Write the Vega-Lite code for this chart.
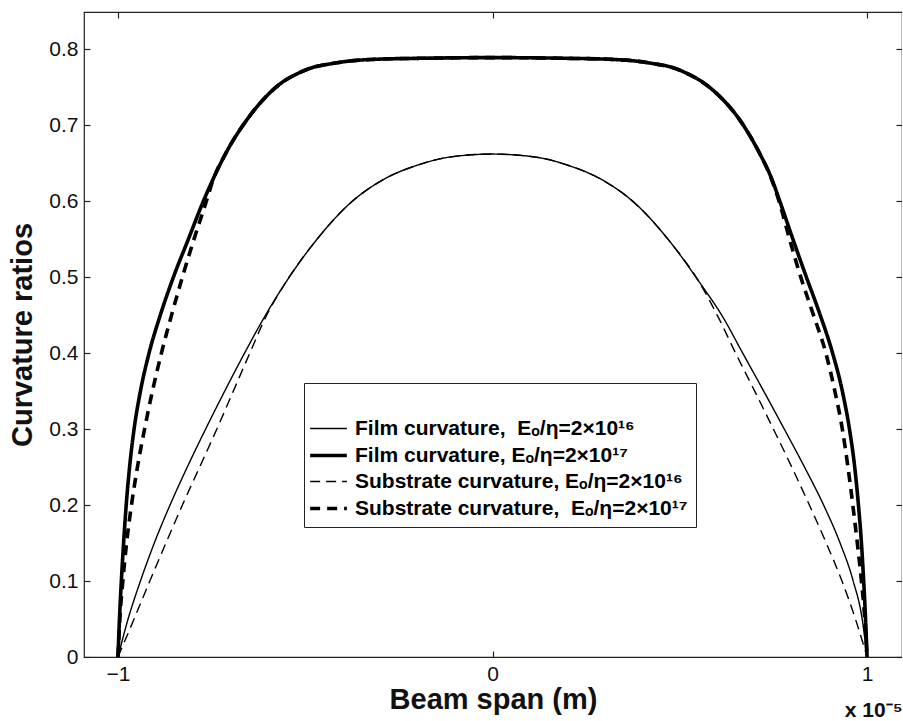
{
  "$schema": "https://vega.github.io/schema/vega-lite/v6.json",
  "autosize": {"type": "none"},
  "padding": {"left": 84, "top": 12, "right": 0, "bottom": 64},
  "width": 818,
  "height": 645,
  "background": "white",
  "config": {
    "view": {"stroke": "#222", "strokeWidth": 1.2},
    "font": "Liberation Sans",
    "axis": {"grid": false, "domain": false, "tickColor": "#222", "tickSize": -6, "tickWidth": 1.2, "labelFont": "Liberation Sans", "labelColor": "#111", "labelFontSize": 21, "titleFont": "Liberation Sans", "titleFontWeight": "bold", "titleColor": "#111"},
    "legend": {"orient": "none", "legendX": 220, "legendY": 371, "titleFontSize": 12, "titlePadding": 10,
               "symbolType": "M-1.25,0H1.25", "symbolSize": 864, "symbolStrokeColor": "#000", "symbolFillColor": "transparent", "labelFont": "Liberation Sans", "labelFontWeight": "bold", "labelFontSize": 21, "labelColor": "#000", "labelLimit": 600, "labelOffset": 10,
               "rowPadding": 0, "padding": 8, "strokeColor": "#222", "fillColor": "#fff"}
  },
  "title": {"text": "x 10⁻⁵", "orient": "bottom", "anchor": "end", "fontSize": 21, "fontWeight": "bold", "font": "Liberation Sans", "color": "#111", "offset": -14},
  "datasets": {
    "curves": [
      {"series": "F16", "x": -1, "y": 0}, {"series": "F16", "x": -0.973, "y": 0.05}, {"series": "F16", "x": -0.94, "y": 0.1}, {"series": "F16", "x": -0.903, "y": 0.15}, {"series": "F16", "x": -0.861, "y": 0.2}, {"series": "F16", "x": -0.815, "y": 0.25}, {"series": "F16", "x": -0.766, "y": 0.3}, {"series": "F16", "x": -0.715, "y": 0.35}, {"series": "F16", "x": -0.662, "y": 0.4}, {"series": "F16", "x": -0.606, "y": 0.45}, {"series": "F16", "x": -0.56, "y": 0.487}, {"series": "F16", "x": -0.47, "y": 0.549}, {"series": "F16", "x": -0.381, "y": 0.597}, {"series": "F16", "x": -0.293, "y": 0.628}, {"series": "F16", "x": -0.203, "y": 0.647}, {"series": "F16", "x": -0.115, "y": 0.658}, {"series": "F16", "x": 0, "y": 0.662},
      {"series": "F16", "x": 0.115, "y": 0.658}, {"series": "F16", "x": 0.203, "y": 0.647}, {"series": "F16", "x": 0.293, "y": 0.628}, {"series": "F16", "x": 0.381, "y": 0.597}, {"series": "F16", "x": 0.47, "y": 0.549}, {"series": "F16", "x": 0.56, "y": 0.488}, {"series": "F16", "x": 0.612, "y": 0.45}, {"series": "F16", "x": 0.668, "y": 0.4}, {"series": "F16", "x": 0.724, "y": 0.35}, {"series": "F16", "x": 0.779, "y": 0.3}, {"series": "F16", "x": 0.833, "y": 0.25}, {"series": "F16", "x": 0.884, "y": 0.2}, {"series": "F16", "x": 0.928, "y": 0.15}, {"series": "F16", "x": 0.963, "y": 0.1}, {"series": "F16", "x": 0.987, "y": 0.05}, {"series": "F16", "x": 1, "y": 0},

      {"series": "F17", "x": -1, "y": 0}, {"series": "F17", "x": -0.996, "y": 0.05}, {"series": "F17", "x": -0.991, "y": 0.1}, {"series": "F17", "x": -0.985, "y": 0.15}, {"series": "F17", "x": -0.978, "y": 0.2}, {"series": "F17", "x": -0.969, "y": 0.25}, {"series": "F17", "x": -0.957, "y": 0.3}, {"series": "F17", "x": -0.94, "y": 0.35}, {"series": "F17", "x": -0.917, "y": 0.4}, {"series": "F17", "x": -0.887, "y": 0.45}, {"series": "F17", "x": -0.852, "y": 0.5}, {"series": "F17", "x": -0.812, "y": 0.55}, {"series": "F17", "x": -0.772, "y": 0.6}, {"series": "F17", "x": -0.747, "y": 0.628}, {"series": "F17", "x": -0.71, "y": 0.665}, {"series": "F17", "x": -0.656, "y": 0.707}, {"series": "F17", "x": -0.6, "y": 0.74}, {"series": "F17", "x": -0.56, "y": 0.757}, {"series": "F17", "x": -0.52, "y": 0.768}, {"series": "F17", "x": -0.48, "y": 0.776}, {"series": "F17", "x": -0.43, "y": 0.781}, {"series": "F17", "x": -0.39, "y": 0.784}, {"series": "F17", "x": -0.3, "y": 0.787}, {"series": "F17", "x": -0.2, "y": 0.788}, {"series": "F17", "x": 0, "y": 0.789},
      {"series": "F17", "x": 0.2, "y": 0.788}, {"series": "F17", "x": 0.3, "y": 0.787}, {"series": "F17", "x": 0.39, "y": 0.784}, {"series": "F17", "x": 0.43, "y": 0.781}, {"series": "F17", "x": 0.48, "y": 0.776}, {"series": "F17", "x": 0.52, "y": 0.768}, {"series": "F17", "x": 0.56, "y": 0.757}, {"series": "F17", "x": 0.6, "y": 0.741}, {"series": "F17", "x": 0.66, "y": 0.707}, {"series": "F17", "x": 0.712, "y": 0.664}, {"series": "F17", "x": 0.745, "y": 0.63}, {"series": "F17", "x": 0.767, "y": 0.6}, {"series": "F17", "x": 0.802, "y": 0.55}, {"series": "F17", "x": 0.838, "y": 0.5}, {"series": "F17", "x": 0.875, "y": 0.45}, {"series": "F17", "x": 0.908, "y": 0.4}, {"series": "F17", "x": 0.934, "y": 0.35}, {"series": "F17", "x": 0.953, "y": 0.3}, {"series": "F17", "x": 0.967, "y": 0.25}, {"series": "F17", "x": 0.977, "y": 0.2}, {"series": "F17", "x": 0.985, "y": 0.15}, {"series": "F17", "x": 0.991, "y": 0.1}, {"series": "F17", "x": 0.996, "y": 0.05}, {"series": "F17", "x": 1, "y": 0},

      {"series": "S16", "x": -1, "y": 0}, {"series": "S16", "x": -0.957, "y": 0.05}, {"series": "S16", "x": -0.915, "y": 0.1}, {"series": "S16", "x": -0.872, "y": 0.15}, {"series": "S16", "x": -0.828, "y": 0.2}, {"series": "S16", "x": -0.782, "y": 0.25}, {"series": "S16", "x": -0.736, "y": 0.3}, {"series": "S16", "x": -0.692, "y": 0.35}, {"series": "S16", "x": -0.648, "y": 0.4}, {"series": "S16", "x": -0.603, "y": 0.45}, {"series": "S16", "x": -0.56, "y": 0.487}, {"series": "S16", "x": -0.47, "y": 0.549}, {"series": "S16", "x": -0.381, "y": 0.597}, {"series": "S16", "x": -0.293, "y": 0.628}, {"series": "S16", "x": -0.203, "y": 0.647}, {"series": "S16", "x": -0.115, "y": 0.658}, {"series": "S16", "x": 0, "y": 0.662},
      {"series": "S16", "x": 0.115, "y": 0.658}, {"series": "S16", "x": 0.203, "y": 0.647}, {"series": "S16", "x": 0.293, "y": 0.628}, {"series": "S16", "x": 0.381, "y": 0.597}, {"series": "S16", "x": 0.47, "y": 0.549}, {"series": "S16", "x": 0.556, "y": 0.49}, {"series": "S16", "x": 0.6, "y": 0.45}, {"series": "S16", "x": 0.649, "y": 0.4}, {"series": "S16", "x": 0.7, "y": 0.35}, {"series": "S16", "x": 0.75, "y": 0.3}, {"series": "S16", "x": 0.799, "y": 0.25}, {"series": "S16", "x": 0.846, "y": 0.2}, {"series": "S16", "x": 0.891, "y": 0.15}, {"series": "S16", "x": 0.933, "y": 0.1}, {"series": "S16", "x": 0.969, "y": 0.05}, {"series": "S16", "x": 1, "y": 0},

      {"series": "S17", "x": -1, "y": 0}, {"series": "S17", "x": -0.995, "y": 0.05}, {"series": "S17", "x": -0.987, "y": 0.1}, {"series": "S17", "x": -0.977, "y": 0.15}, {"series": "S17", "x": -0.964, "y": 0.2}, {"series": "S17", "x": -0.948, "y": 0.25}, {"series": "S17", "x": -0.929, "y": 0.3}, {"series": "S17", "x": -0.908, "y": 0.35}, {"series": "S17", "x": -0.884, "y": 0.4}, {"series": "S17", "x": -0.857, "y": 0.45}, {"series": "S17", "x": -0.828, "y": 0.5}, {"series": "S17", "x": -0.797, "y": 0.55}, {"series": "S17", "x": -0.764, "y": 0.6}, {"series": "S17", "x": -0.746, "y": 0.628}, {"series": "S17", "x": -0.71, "y": 0.665}, {"series": "S17", "x": -0.656, "y": 0.707}, {"series": "S17", "x": -0.6, "y": 0.74}, {"series": "S17", "x": -0.56, "y": 0.757}, {"series": "S17", "x": -0.52, "y": 0.768}, {"series": "S17", "x": -0.48, "y": 0.776}, {"series": "S17", "x": -0.43, "y": 0.781}, {"series": "S17", "x": -0.39, "y": 0.784}, {"series": "S17", "x": -0.3, "y": 0.787}, {"series": "S17", "x": -0.2, "y": 0.788}, {"series": "S17", "x": 0, "y": 0.789},
      {"series": "S17", "x": 0.2, "y": 0.788}, {"series": "S17", "x": 0.3, "y": 0.787}, {"series": "S17", "x": 0.39, "y": 0.784}, {"series": "S17", "x": 0.43, "y": 0.781}, {"series": "S17", "x": 0.48, "y": 0.776}, {"series": "S17", "x": 0.52, "y": 0.768}, {"series": "S17", "x": 0.56, "y": 0.757}, {"series": "S17", "x": 0.6, "y": 0.741}, {"series": "S17", "x": 0.66, "y": 0.707}, {"series": "S17", "x": 0.712, "y": 0.664}, {"series": "S17", "x": 0.744, "y": 0.63}, {"series": "S17", "x": 0.765, "y": 0.6}, {"series": "S17", "x": 0.793, "y": 0.55}, {"series": "S17", "x": 0.823, "y": 0.5}, {"series": "S17", "x": 0.857, "y": 0.45}, {"series": "S17", "x": 0.89, "y": 0.4}, {"series": "S17", "x": 0.914, "y": 0.35}, {"series": "S17", "x": 0.934, "y": 0.3}, {"series": "S17", "x": 0.949, "y": 0.25}, {"series": "S17", "x": 0.962, "y": 0.2}, {"series": "S17", "x": 0.974, "y": 0.15}, {"series": "S17", "x": 0.985, "y": 0.1}, {"series": "S17", "x": 0.994, "y": 0.05}, {"series": "S17", "x": 1, "y": 0}
    ],
    "frame": [{"x": 0, "y": 0}]
  },
  "layer": [
    {
      "data": {"name": "curves"},
      "mark": {"type": "line", "stroke": "#000", "interpolate": "monotone", "strokeCap": "butt", "strokeJoin": "round"},
      "encoding": {
        "x": {"field": "x", "type": "quantitative", "scale": {"domain": [-1.0907, 1.0933], "nice": false, "zero": false},
              "axis": {"orient": "bottom", "values": [-1, 0, 1], "format": "d", "labelPadding": 12, "title": "Beam span (m)", "titleFontSize": 29, "titlePadding": 1}},
        "y": {"field": "y", "type": "quantitative", "scale": {"domain": [0, 0.849], "nice": false},
              "axis": {"orient": "left", "values": [0, 0.1, 0.2, 0.3, 0.4, 0.5, 0.6, 0.7, 0.8], "labelExpr": "datum.value == 0 ? '0' : format(datum.value, '.1f')", "labelPadding": 12, "title": "Curvature ratios", "titleFontSize": 29, "titlePadding": 11}},
        "strokeWidth": {"field": "series", "type": "nominal", "scale": {"type": "ordinal", "domain": ["F16", "F17", "S16", "S17"], "range": [1.4, 3.6, 1.4, 3.6]},
              "legend": {"title": " ",
                         "labelExpr": "{'F16': 'Film curvature,\u00a0\u00a0Eₒ/η=2×10¹⁶', 'F17': '\u00a0Film curvature,\u00a0Eₒ/η=2×10¹⁷', 'S16': 'Substrate curvature,\u00a0Eₒ/η=2×10¹⁶', 'S17': 'Substrate curvature,\u00a0\u00a0Eₒ/η=2×10¹⁷'}[datum.label]"}},
        "strokeDash": {"field": "series", "type": "nominal", "scale": {"domain": ["F16", "F17", "S16", "S17"], "range": [[1, 0], [1, 0], [10, 6], [10, 7]]},
              "legend": {"title": " ",
                         "labelExpr": "{'F16': 'Film curvature,\u00a0\u00a0Eₒ/η=2×10¹⁶', 'F17': '\u00a0Film curvature,\u00a0Eₒ/η=2×10¹⁷', 'S16': 'Substrate curvature,\u00a0Eₒ/η=2×10¹⁶', 'S17': 'Substrate curvature,\u00a0\u00a0Eₒ/η=2×10¹⁷'}[datum.label]"}}
      }
    },
    {
      "data": {"name": "frame"},
      "mark": {"type": "point", "opacity": 0},
      "encoding": {
        "x": {"field": "x", "type": "quantitative", "axis": {"orient": "top", "values": [-1, 0, 1], "labels": false, "title": null}},
        "y": {"field": "y", "type": "quantitative", "axis": {"orient": "right", "values": [0, 0.1, 0.2, 0.3, 0.4, 0.5, 0.6, 0.7, 0.8], "labels": false, "title": null}}
      }
    }
  ],
  "resolve": {"axis": {"x": "independent", "y": "independent"}}
}
